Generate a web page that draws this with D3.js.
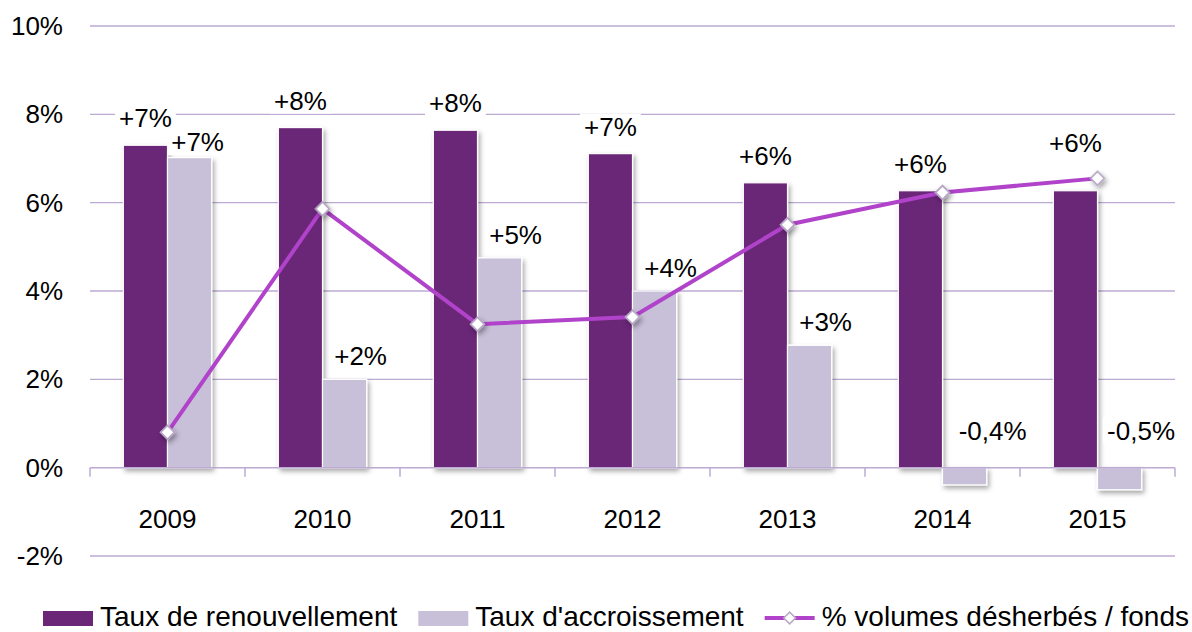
<!DOCTYPE html>
<html>
<head>
<meta charset="utf-8">
<script src="https://cdn.jsdelivr.net/npm/d3@7"></script>
<style>
  body { margin: 0; background: #fff; }
  svg text { font-family: "Liberation Sans", Arial, sans-serif; fill: #000; }
</style>
</head>
<body>
<script>
// data
var years = ["2009", "2010", "2011", "2012", "2013", "2014", "2015"];
var renouvellement = [7.30, 7.70, 7.64, 7.11, 6.45, 6.27, 6.27];
var accroissement = [7.02, 2.00, 4.75, 4.00, 2.77, -0.39, -0.50];
var desherbes = [0.80, 5.86, 3.25, 3.41, 5.50, 6.23, 6.55];
var yTicks = [-2, 0, 2, 4, 6, 8, 10];
var seriesNames = ["Taux de renouvellement", "Taux d'accroissement", "% volumes désherbés / fonds"];

var width = 1192, height = 632;
var plotLeft = 90, plotRight = 1175, plotTop = 26, plotBottom = 556;
var dark = "#6b2677", light = "#c8bfd9", lineCol = "#b043c9", grid = "#bcaad3";

var svg = d3.select("body").append("svg")
  .attr("width", width).attr("height", height);

var defs = svg.append("defs");
var f = defs.append("filter").attr("id", "shadow")
  .attr("x", "-20%").attr("y", "-20%").attr("width", "150%").attr("height", "150%");
f.append("feDropShadow").attr("dx", 2).attr("dy", 3).attr("stdDeviation", 2.5)
  .attr("flood-color", "#000").attr("flood-opacity", 0.35);

var x0 = d3.scaleBand().domain(years).range([plotLeft, plotRight]);
var bw = x0.bandwidth();
var groupW = bw * 0.57;
var x1 = d3.scaleBand().domain(["r", "a"]).range([(bw - groupW) / 2, (bw + groupW) / 2]);
var y = d3.scaleLinear().domain([-2, 10]).range([plotBottom, plotTop]);

function fmt(v) {
  if (v < 0) return v.toFixed(1).replace(".", ",") + "%";
  return "+" + Math.round(v) + "%";
}

// gridlines
svg.append("g").selectAll("line")
  .data(yTicks.filter(function(t) { return t !== 0; }))
  .enter().append("line")
  .attr("x1", plotLeft).attr("x2", plotRight)
  .attr("y1", function(d) { return y(d); }).attr("y2", function(d) { return y(d); })
  .attr("stroke", grid).attr("stroke-width", 1.3);

// y labels
svg.append("g").selectAll("text")
  .data(yTicks).enter().append("text")
  .attr("x", 63).attr("y", function(d) { return y(d); })
  .attr("dy", "0.35em").attr("text-anchor", "end")
  .style("font-size", "26px")
  .text(function(d) { return d + "%"; });

// bars
var gBars = svg.append("g").attr("filter", "url(#shadow)");
years.forEach(function(yr, i) {
  [["r", renouvellement[i], dark], ["a", accroissement[i], light]].forEach(function(s) {
    var v = s[1];
    gBars.append("rect")
      .attr("x", x0(yr) + x1(s[0]))
      .attr("width", x1.bandwidth())
      .attr("y", y(Math.max(0, v)))
      .attr("height", Math.abs(y(v) - y(0)))
      .attr("fill", s[2])
      .attr("stroke", "#fff").attr("stroke-width", 1.2);
  });
});

// zero axis with ticks
var axis = svg.append("g");
axis.append("line").attr("x1", plotLeft).attr("x2", plotRight)
  .attr("y1", y(0)).attr("y2", y(0))
  .attr("stroke", grid).attr("stroke-width", 1.5);
axis.selectAll("line.tick")
  .data(years.map(function(d) { return x0(d); }).concat([plotRight]))
  .enter().append("line").attr("class", "tick")
  .attr("x1", function(d) { return d; }).attr("x2", function(d) { return d; })
  .attr("y1", y(0)).attr("y2", y(0) + 9)
  .attr("stroke", grid).attr("stroke-width", 1.5);

// year labels
svg.append("g").selectAll("text")
  .data(years).enter().append("text")
  .attr("x", function(d) { return x0(d) + bw / 2; })
  .attr("y", y(0) + 60)
  .attr("text-anchor", "middle")
  .style("font-size", "26px")
  .text(function(d) { return d; });

// data labels with white boxes
var gLab = svg.append("g");
function label(cx, by, txt, maxRight) {
  var g = gLab.append("g");
  var t = g.append("text").attr("x", cx).attr("y", by)
    .attr("text-anchor", "middle").style("font-size", "26px").text(txt);
  var b = t.node().getBBox();
  if (maxRight && b.x + b.width > maxRight) {
    t.attr("x", cx - (b.x + b.width - maxRight));
    b = t.node().getBBox();
  }
  g.insert("rect", "text")
    .attr("x", b.x - 4).attr("y", b.y + 2)
    .attr("width", b.width + 8).attr("height", b.height - 4)
    .attr("fill", "#fff");
}
var darkBase = [];
years.forEach(function(yr, i) {
  var cx = x0(yr) + x1("r") + x1.bandwidth() / 2;
  var topY = y(renouvellement[i]);
  var ly = y(desherbes[i]);
  if (ly < topY) topY = ly - 8;
  darkBase.push(topY - 18);
  label(cx, topY - 18, fmt(renouvellement[i]));
});
years.forEach(function(yr, i) {
  var v = accroissement[i];
  var c = x0(yr) + x1("a") + x1.bandwidth() / 2;
  var cx, by;
  if (v < 0) {
    cx = c + 28; by = y(0) - 28;
  } else {
    cx = c + 16; by = y(v) - 14;
    // keep clear of the neighbouring label
    if (Math.abs(by - darkBase[i]) < 24) { by = darkBase[i] + 24; cx = c + 8; }
  }
  label(cx, by, fmt(v), plotRight);
});

// line
var lineGen = d3.line()
  .x(function(d, i) { return x0(years[i]) + bw / 2; })
  .y(function(d) { return y(d); });
svg.append("path").datum(desherbes)
  .attr("d", lineGen)
  .attr("fill", "none").attr("stroke", lineCol).attr("stroke-width", 4);

svg.append("g").attr("filter", "url(#shadow)").selectAll("path")
  .data(desherbes).enter().append("path")
  .attr("d", d3.symbol().type(d3.symbolSquare).size(95))
  .attr("transform", function(d, i) {
    return "translate(" + (x0(years[i]) + bw / 2) + "," + y(d) + ") rotate(45)";
  })
  .attr("fill", "#fff").attr("stroke", "#b7a8c6").attr("stroke-width", 1.8);

// legend
var leg = svg.append("g");
var lx = 43, ly0 = 618;
seriesNames.forEach(function(name, i) {
  if (i < 2) {
    leg.append("rect").attr("x", lx).attr("y", ly0 - 7).attr("width", 50).attr("height", 15)
      .attr("fill", i === 0 ? dark : light);
  } else {
    leg.append("line").attr("x1", lx).attr("x2", lx + 50).attr("y1", ly0).attr("y2", ly0)
      .attr("stroke", lineCol).attr("stroke-width", 4);
    leg.append("path").attr("d", d3.symbol().type(d3.symbolSquare).size(70))
      .attr("transform", "translate(" + (lx + 25) + "," + ly0 + ") rotate(45)")
      .attr("fill", "#fff").attr("stroke", "#b7a8c6").attr("stroke-width", 1.5);
  }
  var t = leg.append("text").attr("x", lx + 57).attr("y", ly0 + 8)
    .style("font-size", "28px").text(name);
  lx += 57 + t.node().getComputedTextLength() + 21;
});
</script>
</body>
</html>
